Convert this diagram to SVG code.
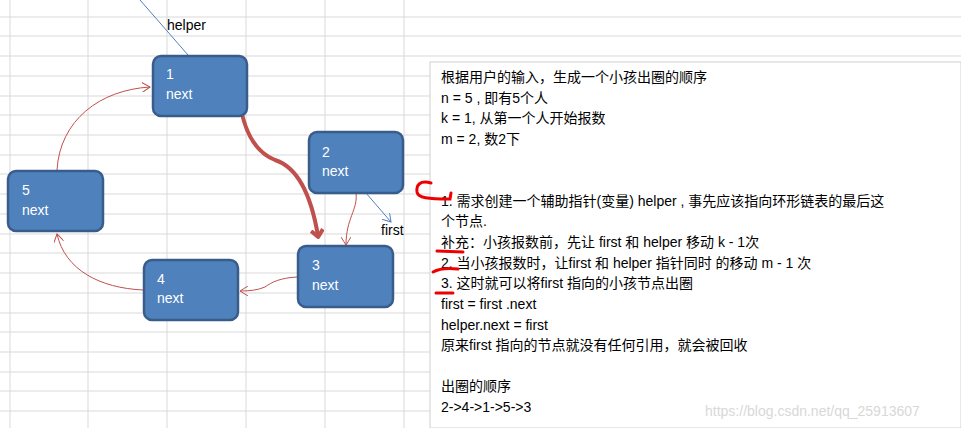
<svg xmlns="http://www.w3.org/2000/svg" width="961" height="428" viewBox="0 0 961 428">
<defs>
<style>
.grid{stroke:#d9d9d9;stroke-width:1}
.node rect{fill:#4f81bd;stroke:#385d8a;stroke-width:2.5}
.node text{fill:#fff;font-family:"Liberation Sans","Noto Sans",sans-serif;font-size:14px}
.lbl{fill:#000;font-family:"Liberation Sans",sans-serif;font-size:14px}
.t{fill:#000;font-family:"Liberation Sans","Noto Sans CJK SC",sans-serif;font-size:14px}
.thin{fill:none;stroke:#c0504d;stroke-width:1}
.blue{fill:none;stroke:#4f81bd;stroke-width:1}
.mark{fill:none;stroke:#e00;stroke-width:3;stroke-linecap:round}
</style>
<marker id="ar" markerWidth="10" markerHeight="10" refX="8" refY="5" orient="auto" markerUnits="userSpaceOnUse"><path d="M0,0 L8,5 L0,10" fill="none" stroke="#c0504d" stroke-width="1"/></marker>
<marker id="ab" markerWidth="10" markerHeight="10" refX="8" refY="5" orient="auto" markerUnits="userSpaceOnUse"><path d="M0,0 L8,5 L0,10" fill="none" stroke="#4f81bd" stroke-width="1"/></marker>
<marker id="big" markerWidth="14" markerHeight="14" refX="7" refY="7" orient="auto" markerUnits="userSpaceOnUse"><path d="M1,1 L8,7 L1,13" fill="none" stroke="#c0504d" stroke-width="4" stroke-linejoin="round"/></marker>
</defs>
<rect width="961" height="428" fill="#fff"/>
<g id="grid">
<g class="grid">
<line x1="10" y1="0" x2="10" y2="428"/><line x1="88" y1="0" x2="88" y2="428"/><line x1="167" y1="0" x2="167" y2="428"/><line x1="246" y1="0" x2="246" y2="428"/><line x1="325" y1="0" x2="325" y2="428"/><line x1="404" y1="0" x2="404" y2="428"/>
<line x1="0" y1="17" x2="961" y2="17"/><line x1="0" y1="36" x2="961" y2="36"/><line x1="0" y1="56" x2="961" y2="56"/><line x1="0" y1="76" x2="430" y2="76"/><line x1="0" y1="96" x2="430" y2="96"/><line x1="0" y1="115" x2="430" y2="115"/><line x1="0" y1="135" x2="430" y2="135"/><line x1="0" y1="155" x2="430" y2="155"/><line x1="0" y1="174" x2="430" y2="174"/><line x1="0" y1="194" x2="430" y2="194"/><line x1="0" y1="214" x2="430" y2="214"/><line x1="0" y1="234" x2="430" y2="234"/><line x1="0" y1="253" x2="430" y2="253"/><line x1="0" y1="273" x2="430" y2="273"/><line x1="0" y1="293" x2="430" y2="293"/><line x1="0" y1="313" x2="430" y2="313"/><line x1="0" y1="332" x2="430" y2="332"/><line x1="0" y1="352" x2="430" y2="352"/><line x1="0" y1="372" x2="430" y2="372"/><line x1="0" y1="391" x2="430" y2="391"/><line x1="0" y1="411" x2="430" y2="411"/>
</g>
<rect x="430" y="62" width="531" height="366" fill="#fff" stroke="#d0d0d0"/>
</g>
<g id="connectors">
<line class="blue" x1="140" y1="0" x2="188" y2="55"/>
<line class="blue" x1="366" y1="193" x2="391" y2="222" marker-end="url(#ab)"/>
<path class="thin" d="M57,170 C60,120 100,90 150,87" marker-end="url(#ar)"/>
<path class="thin" d="M356,193 C358,210 346,218 346,245" marker-end="url(#ar)"/>
<path class="thin" d="M297,277 C280,278 272,282 265,287 C258,290 250,291 240,291" marker-end="url(#ar)"/>
<path class="thin" d="M143,290 C100,288 65,270 57,234" marker-end="url(#ar)"/>
<path d="M238,84 C240,120 250,150 275,160 C300,168 312,200 318,236" fill="none" stroke="#c0504d" stroke-width="4" stroke-linecap="round" marker-end="url(#big)"/>
</g>
<g id="n1" class="node"><rect x="153" y="56" width="94" height="60" rx="8"/><text x="166" y="79">1</text><text x="166" y="99">next</text></g>
<g id="n2" class="node"><rect x="309" y="132" width="94" height="61" rx="8"/><text x="322" y="157">2</text><text x="322" y="176">next</text></g>
<g id="n3" class="node"><rect x="298" y="246" width="95" height="61" rx="8"/><text x="312" y="270">3</text><text x="312" y="290">next</text></g>
<g id="n4" class="node"><rect x="144" y="260" width="94" height="60" rx="8"/><text x="157" y="284">4</text><text x="157" y="303">next</text></g>
<g id="n5" class="node"><rect x="8" y="171" width="95" height="60" rx="8"/><text x="22" y="195">5</text><text x="22" y="215">next</text></g>
<text class="lbl" x="167" y="30">helper</text>
<text class="lbl" x="381" y="235">first</text>
<g id="text">
<text class="t" x="441" y="82">根据用户的输入，生成一个小孩出圈的顺序</text>
<text class="t" x="441" y="103">n = 5 , 即有5个人</text>
<text class="t" x="441" y="123">k = 1, 从第一个人开始报数</text>
<text class="t" x="441" y="144">m = 2, 数2下</text>
<text class="t" x="441" y="206">1.  需求创建一个辅助指针(变量) helper , 事先应该指向环形链表的最后这</text>
<text class="t" x="441" y="226">个节点.</text>
<text class="t" x="441" y="247">补充：小孩报数前，先让 first 和 helper 移动 k - 1次</text>
<text class="t" x="441" y="268">2.  当小孩报数时，让first 和 helper 指针同时 的移动  m  - 1 次</text>
<text class="t" x="441" y="288">3.  这时就可以将first 指向的小孩节点出圈</text>
<text class="t" x="441" y="309">first = first .next</text>
<text class="t" x="441" y="330">helper.next = first</text>
<text class="t" x="441" y="350">原来first 指向的节点就没有任何引用，就会被回收</text>
<text class="t" x="441" y="391">出圈的顺序</text>
<text class="t" x="441" y="412" font-size="12">2-&gt;4-&gt;1-&gt;5-&gt;3</text>
<text x="705" y="416" fill="#d8d8d8" font-family="Liberation Sans,sans-serif" font-size="14">https://blog.csdn.net/qq_25913607</text>
</g>
<g id="marks">
<path class="mark" d="M431,183 C420,180 416,185 417,192 C418,198 428,199 450,199 L451,193"/>
<path class="mark" d="M437,251 L463,252"/>
<path class="mark" d="M433,272 C440,268 450,268 458,269"/>
<path class="mark" d="M436,293 L453,293"/>
</g>
</svg>
